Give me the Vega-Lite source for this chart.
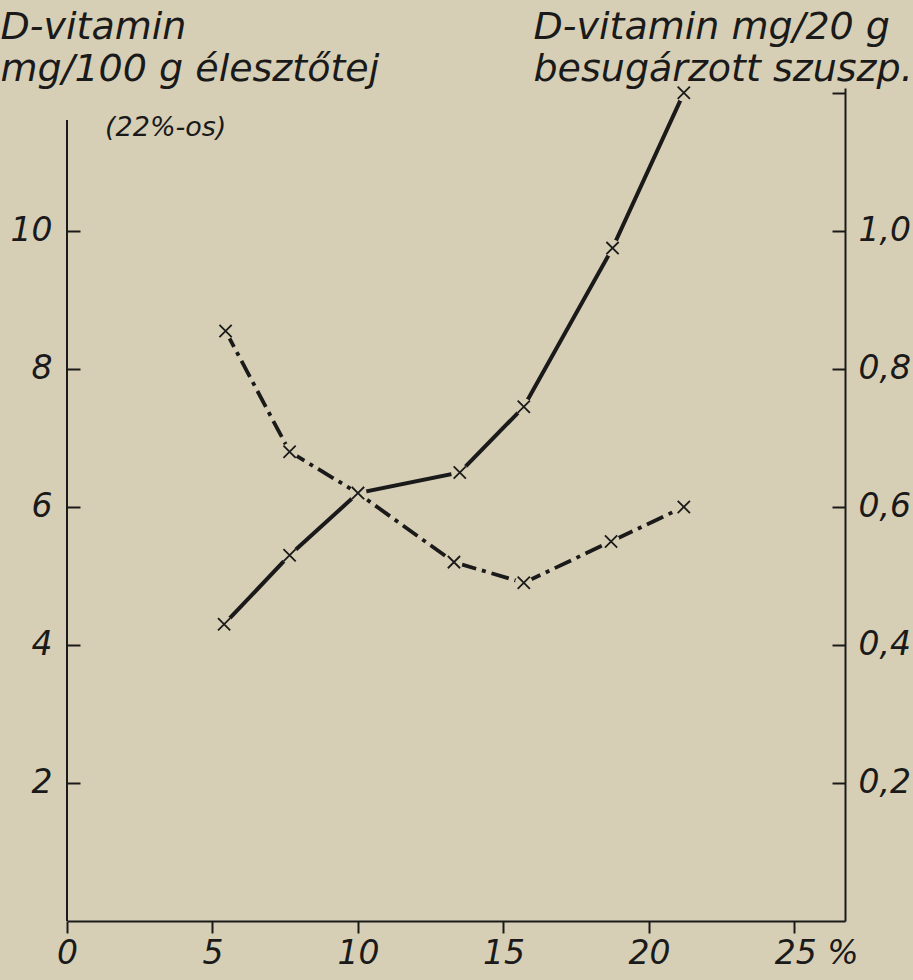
{
  "$schema": "https://vega.github.io/schema/vega-lite/v6.json",
  "width": 778,
  "height": 833,
  "autosize": "none",
  "padding": {"left": 67, "top": 88, "right": 68, "bottom": 59},
  "background": "#d7cfb5",
  "config": {
    "view": {"stroke": null},
    "axis": {
      "grid": false,
      "domainColor": "#1a1a1a",
      "tickColor": "#1a1a1a",
      "labelColor": "#1a1a1a",
      "titleColor": "#1a1a1a",
      "labelFont": "DejaVu Sans",
      "labelFontStyle": "italic",
      "labelFontWeight": "normal",
      "labelFontSize": 33,
      "titleFont": "DejaVu Sans",
      "titleFontStyle": "italic",
      "titleFontWeight": "normal",
      "titleFontSize": 38,
      "domainWidth": 2,
      "tickWidth": 2
    }
  },
  "title": {
    "text": "(22%-os)",
    "anchor": "start",
    "frame": "group",
    "orient": "top",
    "offset": 0,
    "dx": 38,
    "dy": 134,
    "font": "DejaVu Sans",
    "fontStyle": "italic",
    "fontWeight": "normal",
    "fontSize": 27,
    "color": "#1a1a1a"
  },
  "datasets": {
    "yeast": [
      {"pct": 5.45, "vit": 8.55},
      {"pct": 7.65, "vit": 6.8},
      {"pct": 10.0, "vit": 6.2},
      {"pct": 13.3, "vit": 5.2},
      {"pct": 15.7, "vit": 4.9},
      {"pct": 18.7, "vit": 5.5},
      {"pct": 21.2, "vit": 6.0}
    ],
    "suspension": [
      {"pct": 5.4, "vit": 0.43},
      {"pct": 7.65, "vit": 0.53},
      {"pct": 10.0, "vit": 0.62},
      {"pct": 13.5, "vit": 0.65},
      {"pct": 15.7, "vit": 0.745},
      {"pct": 18.75, "vit": 0.975},
      {"pct": 21.2, "vit": 1.2}
    ]
  },
  "encoding": {
    "x": {
      "field": "pct",
      "type": "quantitative",
      "scale": {"domain": [0, 26.74], "nice": false, "zero": true},
      "axis": {
        "title": null,
        "values": [0, 5, 10, 15, 20, 25],
        "tickSize": 12,
        "labelPadding": 4,
        "labelExpr": "datum.value == 25 ? '25 %' : datum.label",
        "labelAlign": {"condition": {"test": "datum.value == 25", "value": "left"}, "value": "center"},
        "labelOffset": {"condition": {"test": "datum.value == 25", "value": -20}, "value": 0}
      }
    }
  },
  "layer": [
    {
      "data": {"name": "yeast"},
      "encoding": {
        "y": {
          "field": "vit",
          "type": "quantitative",
          "scale": {"domain": [0, 12.07], "nice": false, "zero": true},
          "axis": {
            "orient": "left",
            "values": [2, 4, 6, 8, 10],
            "domain": false,
            "tickSize": -13,
            "labelPadding": 28,
            "title": ["D-vitamin", "mg/100 g élesztőtej"],
            "titleAngle": 0,
            "titleAlign": "left",
            "titleBaseline": "top",
            "titleLineHeight": 42,
            "titleX": -67,
            "titleY": -80
          }
        }
      },
      "layer": [
        {
          "mark": {"type": "rule", "color": "#1a1a1a", "strokeWidth": 2},
          "encoding": {"x": {"datum": 0}, "y": {"datum": 0}, "y2": {"datum": 11.6}}
        },
        {
          "mark": {"type": "line", "color": "#1a1a1a", "strokeWidth": 3.8, "strokeDash": [18, 6, 4, 6]}
        },
        {
          "mark": {"type": "point", "shape": "circle", "filled": true, "color": "#d7cfb5", "opacity": 1, "size": 300}
        },
        {
          "mark": {"type": "point", "shape": "M-1,-1L1,1M-1,1L1,-1", "filled": false, "color": "#1a1a1a", "opacity": 1, "strokeWidth": 1.8, "size": 150}
        }
      ]
    },
    {
      "data": {"name": "suspension"},
      "encoding": {
        "y": {
          "field": "vit",
          "type": "quantitative",
          "scale": {"domain": [0, 1.207], "nice": false, "zero": true},
          "axis": {
            "orient": "right",
            "values": [0.2, 0.4, 0.6, 0.8, 1.0, 1.2],
            "domain": true,
            "tickSize": -13,
            "labelPadding": 26,
            "labelExpr": "datum.value > 1.1 ? '' : replace(format(datum.value, '.1f'), '.', ',')",
            "title": ["D-vitamin mg/20 g", "besugárzott szuszp."],
            "titleAngle": 0,
            "titleAlign": "left",
            "titleBaseline": "top",
            "titleLineHeight": 42,
            "titleX": -312,
            "titleY": -80
          }
        }
      },
      "layer": [
        {
          "mark": {"type": "line", "color": "#1a1a1a", "strokeWidth": 4}
        },
        {
          "mark": {"type": "point", "shape": "circle", "filled": true, "color": "#d7cfb5", "opacity": 1, "size": 300}
        },
        {
          "mark": {"type": "point", "shape": "M-1,-1L1,1M-1,1L1,-1", "filled": false, "color": "#1a1a1a", "opacity": 1, "strokeWidth": 1.8, "size": 150}
        }
      ]
    }
  ],
  "resolve": {"scale": {"y": "independent"}}
}
